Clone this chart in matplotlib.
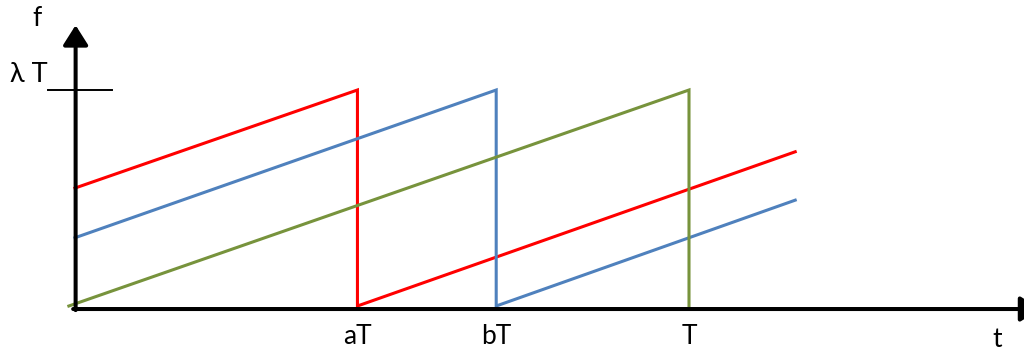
import matplotlib.pyplot as plt

plt.rcParams['font.family'] = ['Lato', 'DejaVu Sans']

# time in units of T, f in units of lambda*T
red_t = [0.0, 0.46, 0.46, 1.173]
red_f = [0.546, 1.0, 0.0, 0.714]
blue_t = [0.0, 0.686, 0.686, 1.173]
blue_f = [0.316, 1.0, 0.0, 0.49]
green_t = [-0.01, 1.0, 1.0]
green_f = [0.0, 1.0, 0.0]

xtick_pos = [0.46, 0.686, 1.0]
xtick_labels = ['aT', 'bT', 'T']

fig = plt.figure(figsize=(10.24, 3.54), dpi=100)
ax = fig.add_axes([0, 0, 1, 1])
# 614 px per unit of t, 216 px per unit of f
ax.set_xlim(-75 / 614, (1024 - 75) / 614)
ax.set_ylim(-48 / 216, 306 / 216)
ax.axis('off')

ax.plot(red_t, red_f, color='#ff0000', lw=2.2, solid_joinstyle='miter')
ax.plot(blue_t, blue_f, color='#4f81bd', lw=2.2, solid_joinstyle='miter')
ax.plot(green_t, green_f, color='#77933c', lw=2.2, solid_joinstyle='miter')

# axes with arrows
arrow = dict(arrowstyle='-|>,head_length=0.6,head_width=0.38', lw=2.9,
             color='black', shrinkA=0, shrinkB=0, mutation_scale=20)
ax.annotate('', xy=(0.001, 1.30), xytext=(0.001, -0.019), arrowprops=arrow,
            annotation_clip=False)
ax.annotate('', xy=(1.572, -0.014), xytext=(-0.003, -0.014), arrowprops=arrow,
            annotation_clip=False)

# lambda T level mark
ax.plot([-0.044, 0.06], [1.0, 1.0], color='black', lw=1.4)

for x, lab in zip(xtick_pos, xtick_labels):
    ax.text(x, -0.14, lab, ha='center', va='center', fontsize=19)
ax.text(1.502, -0.155, 't', ha='center', va='center', fontsize=19)
ax.text(-0.062, 1.33, 'f', ha='center', va='center', fontsize=19)
ax.text(-0.075, 1.07, 'λ T', ha='center', va='center', fontsize=19.5)

fig.savefig('out.png', dpi=100)
